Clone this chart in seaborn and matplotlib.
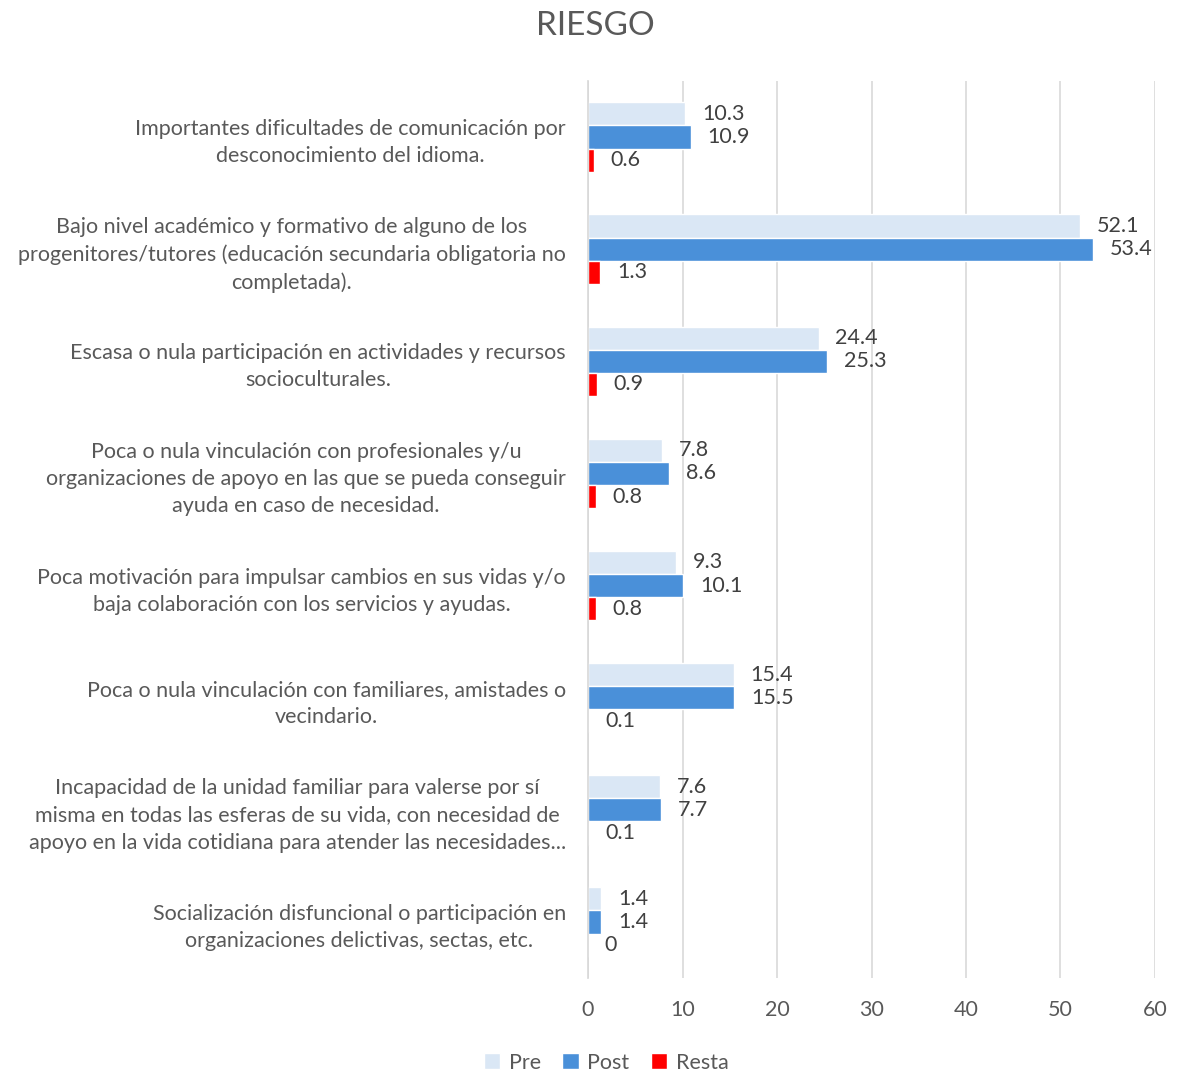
import pandas as pd
import seaborn as sns
import matplotlib.pyplot as plt

# categories and values
categories = [
    "Importantes dificultades de comunicación por\ndesconocimiento del idioma.",
    "Bajo nivel académico y formativo de alguno de los\nprogenitores/tutores (educación secundaria obligatoria no\ncompletada).",
    "Escasa o nula participación en actividades y recursos\nsocioculturales.",
    "Poca o nula vinculación con profesionales y/u\norganizaciones de apoyo en las que se pueda conseguir\nayuda en caso de necesidad.",
    "Poca motivación para impulsar cambios en sus vidas y/o\nbaja colaboración con los servicios y ayudas.",
    "Poca o nula vinculación con familiares, amistades o\nvecindario.",
    "Incapacidad de la unidad familiar para valerse por sí\nmisma en todas las esferas de su vida, con necesidad de\napoyo en la vida cotidiana para atender las necesidades...",
    "Socialización disfuncional o participación en\norganizaciones delictivas, sectas, etc.",
]
pre = [10.3, 52.1, 24.4, 7.8, 9.3, 15.4, 7.6, 1.4]
post = [10.9, 53.4, 25.3, 8.6, 10.1, 15.5, 7.7, 1.4]
resta = [0.6, 1.3, 0.9, 0.8, 0.8, 0.1, 0.1, 0]
series = ["Pre", "Post", "Resta"]
colors = ["#DAE7F5", "#4A90D9", "#FF0000"]

df = pd.DataFrame({
    "categoria": categories * 3,
    "valor": pre + post + resta,
    "serie": ["Pre"] * 8 + ["Post"] * 8 + ["Resta"] * 8,
})

sns.set_theme(style="white")
plt.rcParams["font.family"] = ["Lato", "DejaVu Sans"]
text_color = "#595959"

fig = plt.figure(figsize=(11.77, 10.75), dpi=100)
ax = fig.add_axes([0.4996, 0.0902, 0.4817, 0.8345])

sns.barplot(data=df, y="categoria", x="valor", hue="serie", hue_order=series,
            palette=colors, orient="h", width=0.62, saturation=1, ax=ax)

for cont in ax.containers:
    ax.bar_label(cont, labels=[f"{v:g}" for v in cont.datavalues],
                 padding=12, fontsize=15.5, color="#404040")

ax.set_xlim(0, 60)
ax.set_xticks(range(0, 61, 10))
ax.grid(axis="x", color="#D9D9D9", linewidth=1.2)
ax.set_axisbelow(True)
for s in ["top", "right", "bottom"]:
    ax.spines[s].set_visible(False)
ax.spines["left"].set_color("#D9D9D9")
ax.set_xlabel("")
ax.set_ylabel("")
ax.tick_params(axis="x", labelsize=15.5, colors=text_color, length=0, pad=16)
ax.tick_params(axis="y", labelsize=15.5, colors=text_color, length=0, pad=16)
for lbl in ax.get_yticklabels():
    lbl.set_multialignment("center")
    lbl.set_linespacing(1.45)

ax.get_legend().remove()
handles, labels = ax.get_legend_handles_labels()
fig.legend(handles, labels, loc="lower center", bbox_to_anchor=(0.515, -0.016), ncol=3,
           frameon=False, fontsize=15.5, labelcolor=text_color,
           handlelength=0.75, handleheight=0.75, handletextpad=0.4, columnspacing=1.0)

fig.text(0.506, 0.99, "RIESGO", ha="center", va="top", fontsize=24, color=text_color)

plt.savefig("out.png", dpi=100)
